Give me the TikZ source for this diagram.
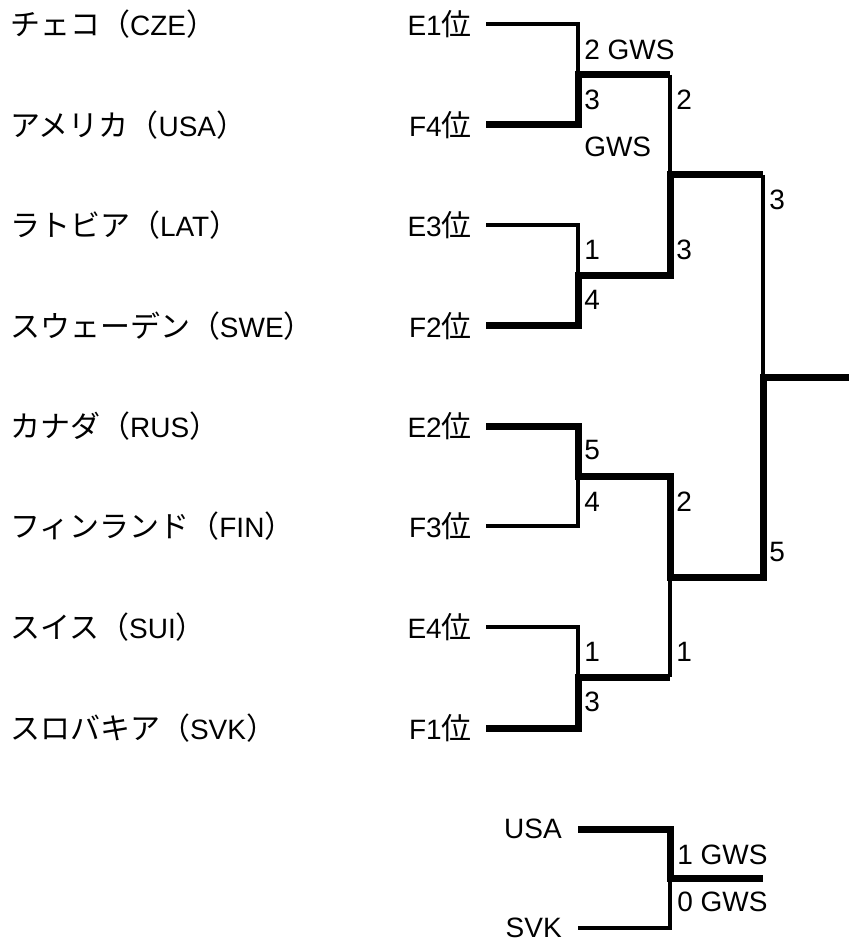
\documentclass[tikz,border=0pt]{standalone}
\usepackage{fontspec}
\setmainfont{Liberation Sans}
\newfontfamily\jp{Noto Sans CJK JP}[Scale=1.07]
\begin{document}
\begin{tikzpicture}[x=0.75pt,y=-0.75pt,
  every node/.style={font=\fontsize{21pt}{25pt}\selectfont, inner sep=0pt},
  team/.style={anchor=west},
  seed/.style={anchor=east, inner xsep=10.5pt},
  score/.style={anchor=west},
  loser/.style={line width=2.4pt},
  winner/.style={line width=5.25pt}]
\useasboundingbox (0,0) rectangle (849,944);
% team names
\node[team] (t1) at (10,24)  {{\jp チェコ（}CZE{\jp ）}};
\node[team] (t2) at (10,125) {{\jp アメリカ（}USA{\jp ）}};
\node[team] (t3) at (10,225) {{\jp ラトビア（}LAT{\jp ）}};
\node[team] (t4) at (10,326) {{\jp スウェーデン（}SWE{\jp ）}};
\node[team] (t5) at (10,426) {{\jp カナダ（}RUS{\jp ）}};
\node[team] (t6) at (10,526) {{\jp フィンランド（}FIN{\jp ）}};
\node[team] (t7) at (10,627) {{\jp スイス（}SUI{\jp ）}};
\node[team] (t8) at (10,728) {{\jp スロバキア（}SVK{\jp ）}};
% seeds
\node[seed] (e1) at (486,24)  {E1{\jp 位}};
\node[seed] (f4) at (486,125) {F4{\jp 位}};
\node[seed] (e3) at (486,225) {E3{\jp 位}};
\node[seed] (f2) at (486,326) {F2{\jp 位}};
\node[seed] (e2) at (486,426) {E2{\jp 位}};
\node[seed] (f3) at (486,526) {F3{\jp 位}};
\node[seed] (e4) at (486,627) {E4{\jp 位}};
\node[seed] (f1) at (486,728) {F1{\jp 位}};
% junctions
\coordinate (m1) at (578,75);
\coordinate (m2) at (578,276);
\coordinate (m3) at (578,476);
\coordinate (m4) at (578,677);
\coordinate (n1) at (670,175);
\coordinate (n2) at (670,577);
\coordinate (fj) at (763,377);
\coordinate (fe) at (849,377);
% bracket lines
\draw[loser]  (e1.east) -| (m1);
\draw[winner] (f4.east) -| (m1) -- (m1 -| n1);
\draw[loser]  (m1 -| n1) -- (n1);
\draw[loser]  (e3.east) -| (m2);
\draw[winner] (f2.east) -| (m2) -| (n1) -- (n1 -| fj);
\draw[loser]  (n1 -| fj) -- (fj);
\draw[winner] (e2.east) -| (m3) -| (n2) -| (fj) -- (fe);
\draw[loser]  (f3.east) -| (m3);
\draw[loser]  (e4.east) -| (m4);
\draw[winner] (f1.east) -| (m4) -- (m4 -| n2);
\draw[loser]  (m4 -| n2) -- (n2);
% scores
\node[score] (s1a) at (584,50)  {2 GWS};
\node[score] (s1b) at (584,100) {3};
\node[score] (s1c) at (584,147) {GWS};
\node[score] (s2a) at (584,250) {1};
\node[score] (s2b) at (584,300) {4};
\node[score] (s3a) at (584,450) {5};
\node[score] (s3b) at (584,502) {4};
\node[score] (s4a) at (584,652) {1};
\node[score] (s4b) at (584,702) {3};
\node[score] (r1a) at (676,100) {2};
\node[score] (r1b) at (676,250) {3};
\node[score] (r2a) at (676,502) {2};
\node[score] (r2b) at (676,652) {1};
\node[score] (fa) at (769,200) {3};
\node[score] (fb) at (769,552) {5};
% third place game
\node[seed, inner xsep=12pt] (usa) at (578,829) {USA};
\node[seed, inner xsep=12pt] (svk) at (578,928) {SVK};
\coordinate (b) at (670,878);
\coordinate (be) at (763,878);
\draw[winner] (usa.east) -| (b) -- (be);
\draw[loser]  (svk.east) -| (b);
\node[score] (ba) at (677,855) {1 GWS};
\node[score] (bb) at (677,902) {0 GWS};
\end{tikzpicture}
\end{document}
